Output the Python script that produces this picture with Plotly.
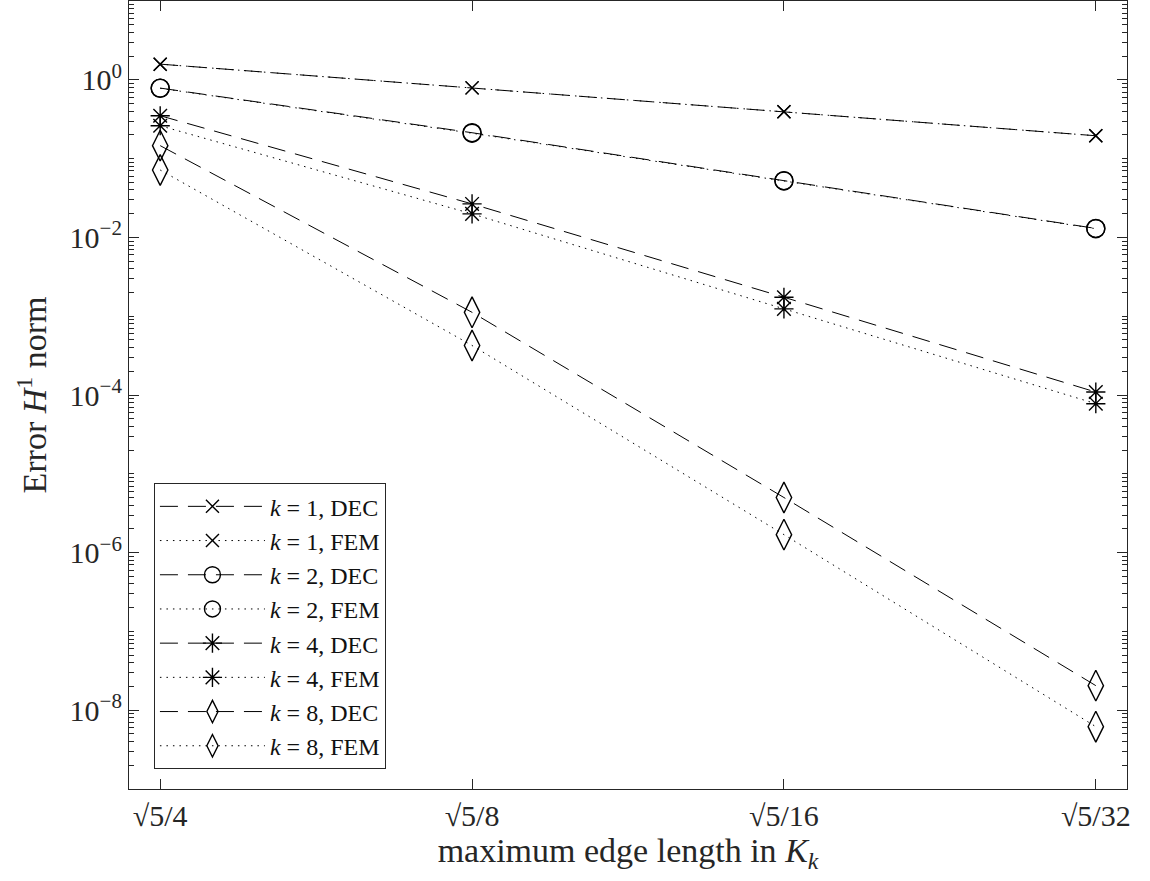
import math
import plotly.graph_objects as go

# ---- data ----
h_denominators = [4, 8, 16, 32]
x_tick_labels = ["√5/4", "√5/8", "√5/16", "√5/32"]

k1_dec = [1.58, 0.79, 0.393, 0.195]
k1_fem = [1.58, 0.79, 0.393, 0.195]
k2_dec = [0.785, 0.213, 0.0525, 0.0130]
k2_fem = [0.780, 0.210, 0.0520, 0.0129]
k4_dec = [0.35, 0.0266, 0.00174, 1.09e-4]
k4_fem = [0.261, 0.0199, 0.00124, 7.76e-5]
k8_dec = [0.146, 1.12e-3, 5.0e-6, 2.05e-8]
k8_fem = [0.0717, 4.25e-4, 1.69e-6, 6.18e-9]

series = [
    ("<i>k</i> = 1, DEC", k1_dec, "DEC", "x-thin-open", 13),
    ("<i>k</i> = 1, FEM", k1_fem, "FEM", "x-thin-open", 13),
    ("<i>k</i> = 2, DEC", k2_dec, "DEC", "circle-open", 18),
    ("<i>k</i> = 2, FEM", k2_fem, "FEM", "circle-open", 18),
    ("<i>k</i> = 4, DEC", k4_dec, "DEC", "asterisk-open", 16),
    ("<i>k</i> = 4, FEM", k4_fem, "FEM", "asterisk-open", 16),
    ("<i>k</i> = 8, DEC", k8_dec, "DEC", "diamond-tall-open", 22),
    ("<i>k</i> = 8, FEM", k8_fem, "FEM", "diamond-tall-open", 22),
]

y_major = [1e-8, 1e-6, 1e-4, 1e-2, 1e0]
y_major_labels = ["10<sup>−8</sup>", "10<sup>−6</sup>", "10<sup>−4</sup>",
                  "10<sup>−2</sup>", "10<sup>0</sup>"]

x_vals = [math.sqrt(5) / d for d in h_denominators]

FONT = "Liberation Serif"
TXT = "#262626"

fig = go.Figure()
for name, vals, kind, sym, size in series:
    dash = "18px,10px" if kind == "DEC" else "1.5px,5px"
    fig.add_trace(go.Scatter(
        x=x_vals, y=vals, name=name, mode="lines+markers",
        line=dict(color="black", width=1, dash=dash),
        marker=dict(symbol=sym, size=size, color="black",
                    line=dict(color="black", width=1.4)),
    ))

# minor ticks on log y-axis
minor_y = []
for e in range(-9, 1):
    for m in range(1, 10):
        v = m * 10.0 ** e
        if v not in y_major:
            minor_y.append(v)

step = math.log10(2)
x_lo = math.log10(x_vals[0]) + 0.1 * step
x_hi = math.log10(x_vals[-1]) - 0.1 * step

fig.update_layout(
    width=1150, height=881,
    margin=dict(l=129, r=23, t=1, b=92),
    paper_bgcolor="white", plot_bgcolor="white",
    font=dict(family=FONT, size=28, color=TXT),
    showlegend=True,
    legend=dict(
        x=0.025, y=0.388, xanchor="left", yanchor="top",
        bgcolor="white", bordercolor=TXT, borderwidth=1,
        font=dict(family=FONT, size=24, color="#111"),
        itemwidth=105, tracegroupgap=0,
    ),
    xaxis=dict(
        type="log", range=[x_lo, x_hi],
        tickmode="array", tickvals=x_vals, ticktext=x_tick_labels,
        ticks="inside", ticklen=10, tickcolor=TXT, tickwidth=1,
        showline=True, linecolor=TXT, linewidth=1.2, mirror="allticks",
        showgrid=False, zeroline=False,
        tickfont=dict(family=FONT, size=30, color=TXT),
        title=dict(text="maximum edge length in <i>K</i><sub><i>k</i></sub>",
                   font=dict(family=FONT, size=34, color=TXT), standoff=4),
    ),
    yaxis=dict(
        type="log", range=[-9, 1],
        tickmode="array", tickvals=y_major, ticktext=y_major_labels,
        ticks="inside", ticklen=10, tickcolor=TXT, tickwidth=1,
        showline=True, linecolor=TXT, linewidth=1.2, mirror="allticks",
        showgrid=False, zeroline=False,
        tickfont=dict(family=FONT, size=30, color=TXT),
        minor=dict(tickmode="array", tickvals=minor_y, ticks="inside",
                   ticklen=5, tickcolor=TXT, tickwidth=1, showgrid=False),
        title=dict(text="Error <i>H</i><sup>1</sup> norm",
                   font=dict(family=FONT, size=34, color=TXT), standoff=12),
    ),
)

fig.write_html("out.html")
